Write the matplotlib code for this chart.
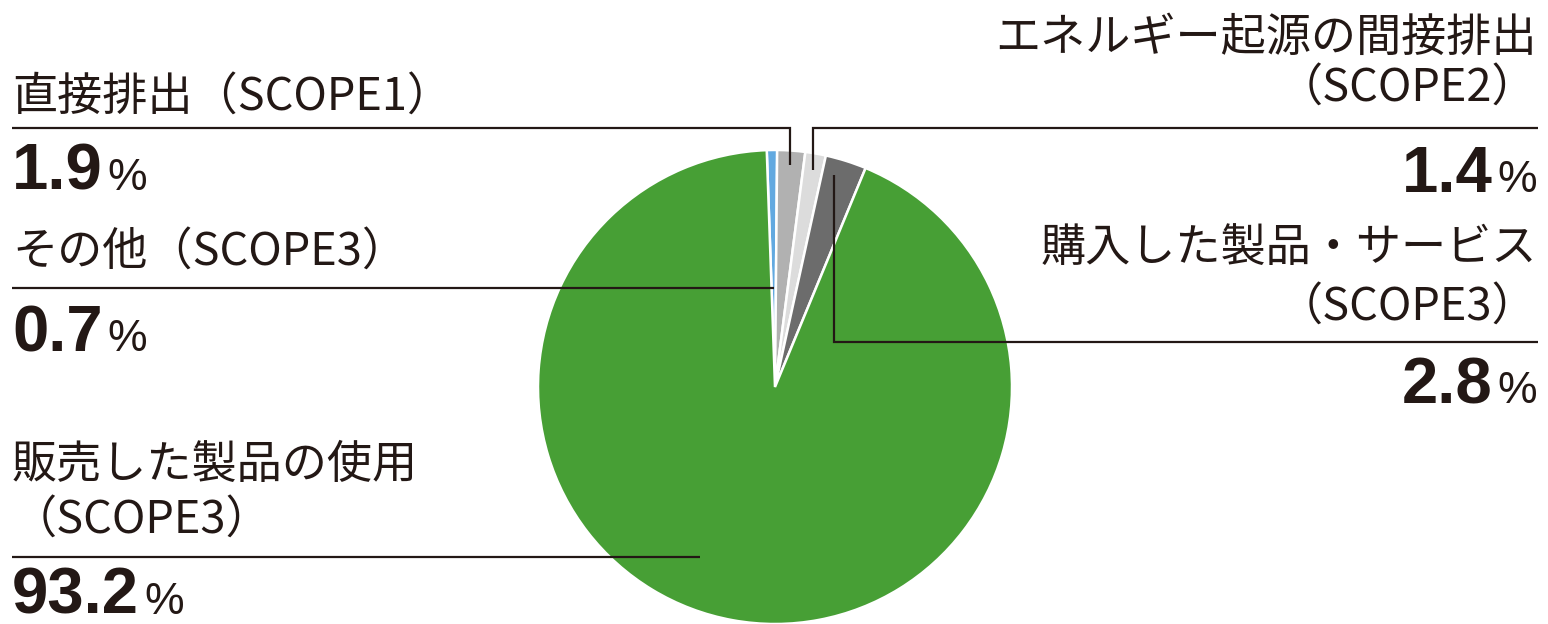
#!/usr/bin/env python3
# -*- coding: utf-8 -*-
import numpy as np
import matplotlib
matplotlib.use("Agg")
import matplotlib.pyplot as plt

# data (clockwise from the top of the pie)
labels = ["その他（SCOPE3）", "直接排出（SCOPE1）", "エネルギー起源の間接排出\n（SCOPE2）",
          "購入した製品・サービス\n（SCOPE3）", "販売した製品の使用\n（SCOPE3）"]
shares = [0.7, 1.9, 1.4, 2.8, 93.2]
share_text = ["0.7", "1.9", "1.4", "2.8", "93.2"]
colors = ["#62a9e0", "#b1b1b1", "#dcdcdc", "#6c6c6c", "#479f35"]

W, H = 1548, 624
INK = "#231815"
JP = ["Noto Sans CJK JP", "DejaVu Sans"]

fig = plt.figure(figsize=(W / 100, H / 100), dpi=100)
ax = fig.add_axes([0, 0, 1, 1])


def Y(px):
    # pixel row from the top -> axis y
    return H - px


cx, cy, R = 775, Y(387), 237
wedges, _ = ax.pie(shares, colors=colors, startangle=92, counterclock=False,
                   center=(cx, cy), radius=R, frame=True,
                   wedgeprops=dict(edgecolor="white", linewidth=1.8))
ax.set_xlim(0, W)
ax.set_ylim(0, H)
ax.set_aspect("equal")
ax.axis("off")


def ray_point(w, frac, t=0.5):
    ang = np.deg2rad(w.theta1 + t * (w.theta2 - w.theta1))
    return cx + frac * R * np.cos(ang), cy + frac * R * np.sin(ang)


# layout: side, text rows (px), leader row, number baseline, leader kind, extra
layout = [
    ("left", [252], 288, 351, "ray", None),
    ("left", [97], 128, 190, "vert", (0.94, 0.5)),
    ("right", [38, 88], 128, 192, "vert", (0.93, 0.5)),
    ("right", [248, 307], 342, 403, "vert", (0.93, 0.7)),
    ("left", [465, 520], 557, 614, "x", 700),
]

LX, RX = 12, 1537
lw = 1.6
renderer = fig.canvas.get_renderer()

for i, (w, lab, num) in enumerate(zip(wedges, labels, share_text)):
    side, rows, ly, base, kind, extra = layout[i]
    ha = "left" if side == "left" else "right"
    tx = LX if side == "left" else RX
    for row, line in zip(rows, lab.split("\n")):
        ax.text(tx, Y(row), line, ha=ha, va="center", fontsize=32.5,
                family=JP, color=INK)

    # leader line
    edge = LX if side == "left" else RX + 1
    if kind == "vert":
        px, py = ray_point(w, *extra)
        ax.plot([edge, px, px], [Y(ly), Y(ly), py], color=INK, lw=lw,
                solid_capstyle="butt", solid_joinstyle="miter")
    elif kind == "ray":
        mid = np.deg2rad((w.theta1 + w.theta2) / 2)
        px = cx + (Y(ly) - cy) / np.tan(mid)
        ax.plot([edge, px], [Y(ly), Y(ly)], color=INK, lw=lw, solid_capstyle="butt")
    else:
        ax.plot([edge, extra], [Y(ly), Y(ly)], color=INK, lw=lw,
                solid_capstyle="butt")

    # percentage: bold number and smaller %
    if side == "left":
        t = ax.text(tx, Y(base), num, ha="left", va="baseline", fontsize=47,
                    family="Liberation Sans", weight="bold", color=INK)
        bb = t.get_window_extent(renderer)
        ax.text(bb.x1 + 5, Y(base), "%", ha="left", va="baseline", fontsize=32,
                family="Liberation Sans", color=INK)
    else:
        p = ax.text(tx, Y(base), "%", ha="right", va="baseline", fontsize=32,
                    family="Liberation Sans", color=INK)
        bb = p.get_window_extent(renderer)
        ax.text(bb.x0 - 5, Y(base), num, ha="right", va="baseline", fontsize=47,
                family="Liberation Sans", weight="bold", color=INK)

fig.savefig("out.png", dpi=100, facecolor="white")
